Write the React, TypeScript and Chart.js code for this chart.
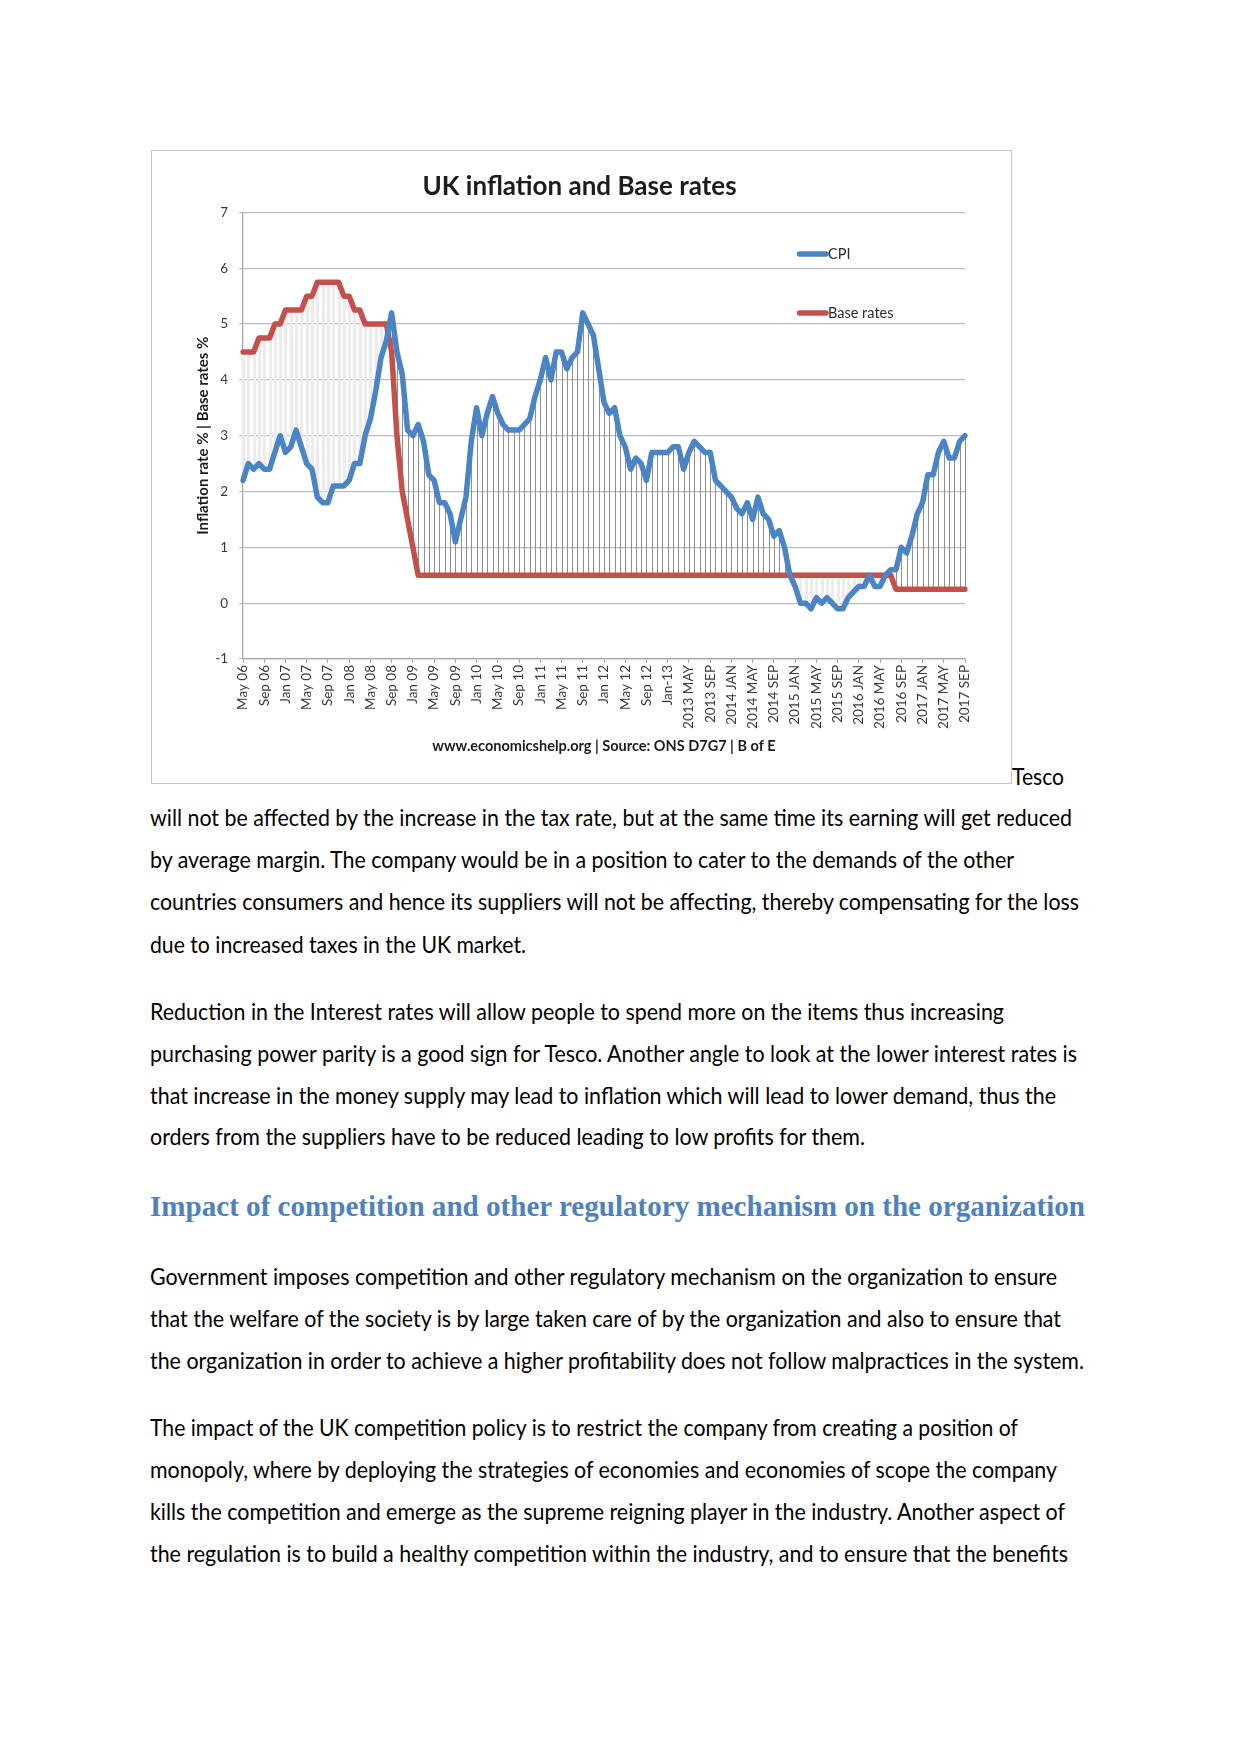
import React, { useEffect, useLayoutEffect, useRef } from 'react';
import { Chart, registerables } from 'chart.js';

Chart.register(...registerables);

// ---------- chart data ----------
const tickLabels = [
  'May 06', 'Sep 06', 'Jan 07', 'May 07', 'Sep 07', 'Jan 08', 'May 08', 'Sep 08', 'Jan 09',
  'May 09', 'Sep 09', 'Jan 10', 'May 10', 'Sep 10', 'Jan 11', 'May 11', 'Sep 11', 'Jan 12',
  'May 12', 'Sep 12', 'Jan-13', '2013 MAY', '2013 SEP', '2014 JAN', '2014 MAY', '2014 SEP',
  '2015 JAN', '2015 MAY', '2015 SEP', '2016 JAN', '2016 MAY', '2016 SEP', '2017 JAN',
  '2017 MAY', '2017 SEP',
];

// monthly CPI, May 2006 .. Sep 2017
const cpi = [
  2.2, 2.5, 2.4, 2.5, 2.4, 2.4, 2.7, 3.0, 2.7, 2.8,
  3.1, 2.8, 2.5, 2.4, 1.9, 1.8, 1.8, 2.1, 2.1, 2.1,
  2.2, 2.5, 2.5, 3.0, 3.3, 3.8, 4.4, 4.7, 5.2, 4.5,
  4.1, 3.1, 3.0, 3.2, 2.9, 2.3, 2.2, 1.8, 1.8, 1.6,
  1.1, 1.5, 1.9, 2.9, 3.5, 3.0, 3.4, 3.7, 3.4, 3.2,
  3.1, 3.1, 3.1, 3.2, 3.3, 3.7, 4.0, 4.4, 4.0, 4.5,
  4.5, 4.2, 4.4, 4.5, 5.2, 5.0, 4.8, 4.2, 3.6, 3.4,
  3.5, 3.0, 2.8, 2.4, 2.6, 2.5, 2.2, 2.7, 2.7, 2.7,
  2.7, 2.8, 2.8, 2.4, 2.7, 2.9, 2.8, 2.7, 2.7, 2.2,
  2.1, 2.0, 1.9, 1.7, 1.6, 1.8, 1.5, 1.9, 1.6, 1.5,
  1.2, 1.3, 1.0, 0.5, 0.3, 0.0, 0.0, -0.1, 0.1, 0.0,
  0.1, 0.0, -0.1, -0.1, 0.1, 0.2, 0.3, 0.3, 0.5, 0.3,
  0.3, 0.5, 0.6, 0.6, 1.0, 0.9, 1.2, 1.6, 1.8, 2.3,
  2.3, 2.7, 2.9, 2.6, 2.6, 2.9, 3.0,
];

// monthly Bank of England base rate, May 2006 .. Sep 2017
const baseRates = [
  4.5, 4.5, 4.5, 4.75, 4.75, 4.75, 5, 5, 5.25, 5.25,
  5.25, 5.25, 5.5, 5.5, 5.75, 5.75, 5.75, 5.75, 5.75, 5.5,
  5.5, 5.25, 5.25, 5, 5, 5, 5, 5, 4.5, 3,
  2, 1.5, 1, 0.5, 0.5, 0.5, 0.5, 0.5, 0.5, 0.5,
  0.5, 0.5, 0.5, 0.5, 0.5, 0.5, 0.5, 0.5, 0.5, 0.5,
  0.5, 0.5, 0.5, 0.5, 0.5, 0.5, 0.5, 0.5, 0.5, 0.5,
  0.5, 0.5, 0.5, 0.5, 0.5, 0.5, 0.5, 0.5, 0.5, 0.5,
  0.5, 0.5, 0.5, 0.5, 0.5, 0.5, 0.5, 0.5, 0.5, 0.5,
  0.5, 0.5, 0.5, 0.5, 0.5, 0.5, 0.5, 0.5, 0.5, 0.5,
  0.5, 0.5, 0.5, 0.5, 0.5, 0.5, 0.5, 0.5, 0.5, 0.5,
  0.5, 0.5, 0.5, 0.5, 0.5, 0.5, 0.5, 0.5, 0.5, 0.5,
  0.5, 0.5, 0.5, 0.5, 0.5, 0.5, 0.5, 0.5, 0.5, 0.5,
  0.5, 0.5, 0.5, 0.25, 0.25, 0.25, 0.25, 0.25, 0.25, 0.25,
  0.25, 0.25, 0.25, 0.25, 0.25, 0.25, 0.25,
];

const seriesNames = ['CPI', 'Base rates'];
const chartTitle = 'UK inflation and Base rates';
const yAxisTitle = 'Inflation rate % | Base rates %';
const sourceText = 'www.economicshelp.org | Source: ONS D7G7 | B of E';

// ---------- page text ----------
const para1 = [
  'will not be affected by the increase in the tax rate, but at the same time its earning will get reduced',
  'by average margin. The company would be in a position to cater to the demands of the other',
  'countries consumers and hence its suppliers will not be affecting, thereby compensating for the loss',
  'due to increased taxes in the UK market.',
];
const para2 = [
  'Reduction in the Interest rates will allow people to spend more on the items thus increasing',
  'purchasing power parity is a good sign for Tesco. Another angle to look at the lower interest rates is',
  'that increase in the money supply may lead to inflation which will lead to lower demand, thus the',
  'orders from the suppliers have to be reduced leading to low profits for them.',
];
const heading = 'Impact of competition and other regulatory mechanism on the organization';
const para3 = [
  'Government imposes competition and other regulatory mechanism on the organization to ensure',
  'that the welfare of the society is by large taken care of by the organization and also to ensure that',
  'the organization in order to achieve a higher profitability does not follow malpractices in the system.',
];
const para4 = [
  'The impact of the UK competition policy is to restrict the company from creating a position of',
  'monopoly, where by deploying the strategies of economies and economies of scope the company',
  'kills the competition and emerge as the supreme reigning player in the industry. Another aspect of',
  'the regulation is to build a healthy competition within the industry, and to ensure that the benefits',
];

// line layout (centre y, target width)
const para1Y = [818, 859.5, 902, 944.5];
const para1W = [922, 864, 929, 376];
const para2Y = [1011.7, 1053.1, 1095.6, 1137];
const para2W = [854, 927, 906, 715];
const para3Y = [1277, 1318.3, 1360.8];
const para3W = [907, 911, 934];
const para4Y = [1428, 1469.4, 1512, 1553.3];
const para4W = [868, 907, 915, 918];

const FONT = 'Lato, "Open Sans", sans-serif';

function FitLine(props: {
  text: string; left: number; top: number; width: number;
  size: number; family: string; weight?: number | string; color?: string; lh: number;
}) {
  const ref = useRef<HTMLSpanElement>(null);
  useLayoutEffect(() => {
    const el = ref.current;
    if (!el) return;
    el.style.transform = 'none';
    const w = el.getBoundingClientRect().width;
    if (w > 0) el.style.transform = `scaleX(${props.width / w})`;
  }, [props.text, props.width]);
  return (
    <span
      ref={ref}
      style={{
        position: 'absolute',
        left: props.left,
        top: props.top,
        whiteSpace: 'nowrap',
        display: 'inline-block',
        transformOrigin: '0 0',
        fontFamily: props.family,
        fontSize: props.size,
        fontWeight: props.weight ?? 400,
        color: props.color ?? '#000',
        lineHeight: `${props.lh}px`,
      }}
    >
      {props.text}
    </span>
  );
}

const hiLoPlugin = {
  id: 'hiLoLines',
  beforeDatasetsDraw(chart: any) {
    const { ctx, scales } = chart;
    const xs = scales.x;
    const ys = scales.y;
    const a = chart.data.datasets[0].data as number[];
    const b = chart.data.datasets[1].data as number[];
    ctx.save();
    for (let i = 0; i < a.length; i++) {
      const px = Math.round(xs.getPixelForValue(i)) + 0.5;
      const y1 = ys.getPixelForValue(a[i]);
      const y2 = ys.getPixelForValue(b[i]);
      if (a[i] >= b[i]) {
        ctx.strokeStyle = '#8f8f8f';
        ctx.lineWidth = 1;
      } else {
        ctx.strokeStyle = '#ececec';
        ctx.lineWidth = 3.4;
      }
      ctx.beginPath();
      ctx.moveTo(px, y1);
      ctx.lineTo(px, y2);
      ctx.stroke();
    }
    ctx.restore();
  },
};

const insideLegendPlugin = {
  id: 'insideLegend',
  afterDatasetsDraw(chart: any) {
    const { ctx, chartArea } = chart;
    const offsets = [41.6, 100.6];
    ctx.save();
    chart.data.datasets.forEach((ds: any, i: number) => {
      const yy = chartArea.top + offsets[i];
      const x0 = chartArea.left + 554;
      ctx.strokeStyle = ds.borderColor;
      ctx.lineWidth = 5.5;
      ctx.lineCap = 'round';
      ctx.beginPath();
      ctx.moveTo(x0 + 2.5, yy);
      ctx.lineTo(x0 + 29, yy);
      ctx.stroke();
      ctx.fillStyle = '#2b2b2b';
      ctx.font = `14.5px ${FONT}`;
      ctx.textBaseline = 'middle';
      ctx.textAlign = 'left';
      ctx.fillText(ds.label, x0 + 31, yy + 0.5);
    });
    ctx.restore();
  },
};

function InflationChart() {
  const canvasRef = useRef<HTMLCanvasElement>(null);
  useEffect(() => {
    const canvas = canvasRef.current;
    if (!canvas) return;
    const categories = cpi.map((_, i) => (i % 4 === 0 ? tickLabels[i / 4] : ''));
    const chart = new Chart(canvas, {
      type: 'line',
      data: {
        labels: categories,
        datasets: [
          {
            label: seriesNames[0],
            data: cpi,
            borderColor: '#4a84c4',
            backgroundColor: '#4a84c4',
            borderWidth: 5.5,
            pointRadius: 0,
            tension: 0,
            fill: false,
            borderJoinStyle: 'round',
            borderCapStyle: 'round',
          },
          {
            label: seriesNames[1],
            data: baseRates,
            borderColor: '#c4504c',
            backgroundColor: '#c4504c',
            borderWidth: 5.5,
            pointRadius: 0,
            tension: 0,
            fill: false,
            borderJoinStyle: 'round',
            borderCapStyle: 'round',
          },
        ],
      },
      options: {
        responsive: false,
        animation: false,
        devicePixelRatio: 1,
        layout: { padding: { left: 42, right: 42, top: 0, bottom: 0 } },
        font: { family: FONT },
        plugins: {
          legend: { display: false },
          tooltip: { enabled: false },
          title: {
            display: true,
            text: chartTitle,
            color: '#1c1c1c',
            font: { family: FONT, size: 26, weight: 'bold', lineHeight: 1.2 },
            padding: { top: 20.4, bottom: 9.8 },
          },
        },
        scales: {
          x: {
            type: 'category',
            offset: false,
            grid: {
              drawOnChartArea: false,
              drawTicks: true,
              tickLength: 4,
              color: (c: any) => (c.index % 4 === 0 ? '#a8a8a8' : 'rgba(0,0,0,0)'),
            },
            border: { display: true, color: '#a8a8a8', width: 1.3 },
            ticks: {
              autoSkip: false,
              maxRotation: 90,
              minRotation: 90,
              padding: 2,
              color: '#3a3a3a',
              font: { family: FONT, size: 13.5 },
            },
            title: {
              display: true,
              text: sourceText,
              color: '#1c1c1c',
              font: { family: FONT, size: 14.5, weight: 'bold', lineHeight: 1.2 },
              padding: { top: 0, bottom: 28.3 },
            },
            afterFit: (s: any) => {
              s.height = 124;
            },
          },
          y: {
            min: -1,
            max: 7,
            ticks: {
              stepSize: 1,
              padding: 11,
              color: '#3a3a3a',
              font: { family: FONT, size: 13.5 },
            },
            grid: {
              color: '#bdbdbd',
              lineWidth: 1.3,
              tickLength: 4,
            },
            border: { display: true, color: '#a8a8a8', width: 1.3 },
            title: {
              display: true,
              text: yAxisTitle,
              color: '#1c1c1c',
              font: { family: FONT, size: 15, weight: 'bold', lineHeight: 1.2 },
              padding: { top: 0, bottom: 0 },
            },
            afterFit: (s: any) => {
              s.width = 49;
            },
          },
        },
      },
      plugins: [hiLoPlugin, insideLegendPlugin],
    } as any);
    return () => chart.destroy();
  }, []);

  return (
    <div
      style={{
        position: 'absolute',
        left: 151,
        top: 150,
        width: 861,
        height: 634,
        boxSizing: 'border-box',
        border: '1px solid #c4c4c4',
        background: '#fff',
      }}
    >
      <canvas
        ref={canvasRef}
        width={855}
        height={632}
        style={{ position: 'absolute', left: 0, top: 0, width: 855, height: 632 }}
      />
    </div>
  );
}

export default function App() {
  const bodySize = 22.5;
  const lh = 42;
  const bodyOff = 20.6;
  const renderPara = (lines: string[], ys: number[], ws: number[], key: string) =>
    lines.map((t, i) => (
      <FitLine
        key={key + i}
        text={t}
        left={150}
        top={ys[i] - bodyOff}
        width={ws[i]}
        size={bodySize}
        family={FONT}
        lh={lh}
      />
    ));
  return (
    <div
      style={{
        position: 'absolute',
        left: 0,
        top: 0,
        width: 1241,
        height: 1754,
        background: '#fff',
        overflow: 'hidden',
      }}
    >
      <InflationChart />
      <FitLine text="Tesco" left={1012} top={776.7 - bodyOff} width={52} size={bodySize} family={FONT} lh={lh} />
      {renderPara(para1, para1Y, para1W, 'p1')}
      {renderPara(para2, para2Y, para2W, 'p2')}
      <FitLine
        text={heading}
        left={150}
        top={1188.4}
        width={935}
        size={29}
        family={'"Liberation Serif", "DejaVu Serif", serif'}
        weight={700}
        color="#4f81bd"
        lh={36}
      />
      {renderPara(para3, para3Y, para3W, 'p3')}
      {renderPara(para4, para4Y, para4W, 'p4')}
    </div>
  );
}
